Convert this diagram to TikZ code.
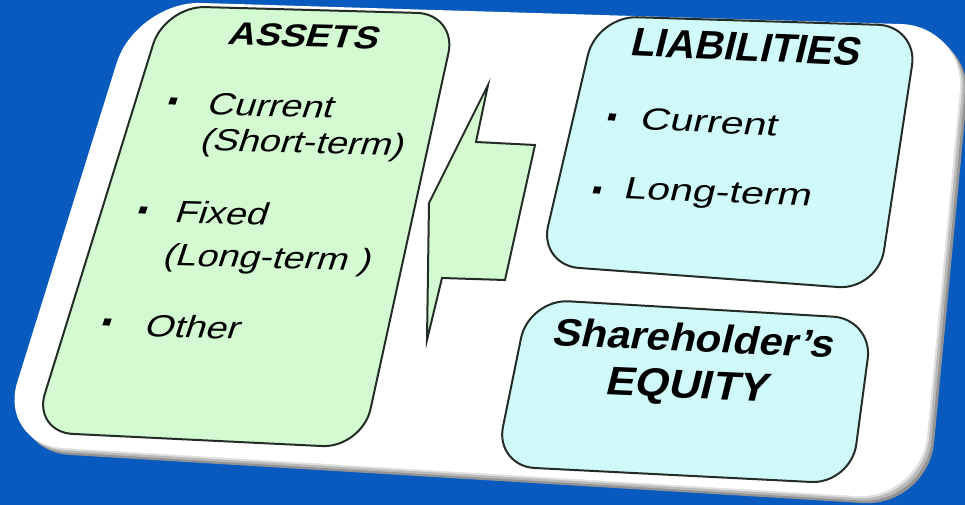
\documentclass[tikz,border=0pt]{standalone}
\usepackage{fontspec}
\setmainfont{Liberation Sans}
\newcommand{\cardoutline}{(136,1) -- (966,26) -- (921,500) -- (-2,444) -- cycle}
\begin{document}
\begin{tikzpicture}[x=0.1mm, y=-0.1mm,
    headtxt/.style={font=\bfseries\fontsize{11.4}{13}\selectfont, inner sep=0pt},
    itemtxt/.style={font=\fontsize{8.8}{10}\selectfont, inner sep=0pt},
    bul/.style={fill=black, inner sep=0pt, minimum size=0.7mm},
    leftside/.style={rotate=-1.5, xslant=0.3},
    rightside/.style={rotate=-2.5, xslant=0.2},
    panel/.style={draw=edge, line width=0.2mm, rounded corners=4mm}]
  \definecolor{bgblue}{RGB}{8,90,190}
  \definecolor{edge}{RGB}{35,45,38}
  \definecolor{assetgreen}{RGB}{212,250,210}
  \definecolor{liabcyan}{RGB}{208,250,250}

  \fill[bgblue] (0,0) rectangle (965,505);
  \useasboundingbox (0,0) rectangle (965,505);
  \clip (0,0) rectangle (965,505);

  % card with bevel
  \fill[gray!85, rounded corners=6.5mm, shift={(7,7)}] \cardoutline;
  \fill[gray!55, rounded corners=6.5mm, shift={(4.5,4.5)}] \cardoutline;
  \fill[gray!25, rounded corners=6.5mm, shift={(2,2)}] \cardoutline;
  \fill[white, rounded corners=6.5mm] \cardoutline;

  % panels
  \draw[panel, fill=assetgreen] (165,6) -- (457,14) -- (362,448) -- (33,432) -- cycle;
  \draw[panel, fill=liabcyan] (597,16) -- (918,26) -- (878,290) -- (539,265) -- cycle;
  \draw[panel, fill=liabcyan] (529,299) -- (873,319) -- (851,484) -- (495,466) -- cycle;
  \draw[draw=edge, line width=0.2mm, fill=assetgreen, line join=miter]
    (488,85) -- (476,142) -- (535,145) -- (505,280) -- (442,278) -- (427,340) -- (429,203) -- cycle;

  % assets
  \node[headtxt, leftside, xscale=1.17, font=\bfseries\fontsize{9.1}{11}\selectfont] (assets) at (305,36) {ASSETS};
  \node[bul, leftside] (b1) at (173,101) {};
  \node[itemtxt, leftside, xscale=1.22] (cur) at (272,106) {Current};
  \node[itemtxt, leftside, xscale=1.22] (short) at (303,145) {(Short-term)};
  \node[bul, leftside] (b2) at (143,210) {};
  \node[itemtxt, leftside, xscale=1.22] (fixed) at (223,213) {Fixed};
  \node[itemtxt, leftside, xscale=1.22] (long) at (268,260) {(Long-term )};
  \node[bul, leftside] (b3) at (107,322) {};
  \node[itemtxt, leftside, xscale=1.22] (other) at (194,327) {Other};

  % liabilities
  \node[headtxt, rightside] (liab) at (747,47) {LIABILITIES};
  \node[bul, rightside] (b4) at (612,117) {};
  \node[itemtxt, rightside, xscale=1.33] (lcur) at (710,122) {Current};
  \node[bul, rightside] (b5) at (597,190) {};
  \node[itemtxt, rightside, xscale=1.33] (llong) at (718,195) {Long-term};

  % equity
  \node[headtxt, rightside, xscale=1.09, font=\bfseries\fontsize{11}{13}\selectfont] (share) at (695,338) {Shareholder's};
  \node[headtxt, rightside, xscale=1.09] (equity) at (688,388) {EQUITY};
\end{tikzpicture}
\end{document}
